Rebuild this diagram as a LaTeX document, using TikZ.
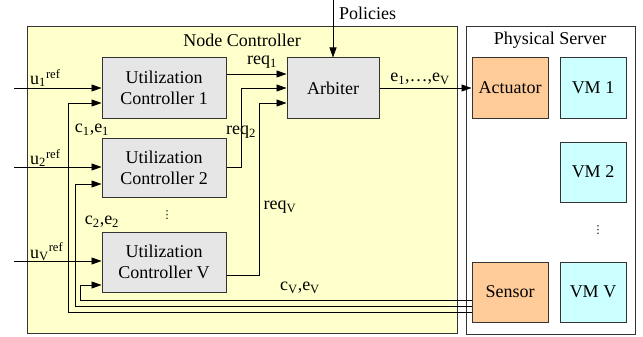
\documentclass[tikz,border=0pt]{standalone}
\usepackage{fontspec}
\setmainfont{Liberation Serif}
\newfontfamily\symfont{DejaVu Sans}
\usetikzlibrary{arrows.meta,calc}

\definecolor{ncfill}{HTML}{FFFFCC}
\definecolor{ucfill}{HTML}{E6E6E6}
\definecolor{hwfill}{HTML}{FFCC99}
\definecolor{vmfill}{HTML}{CCFFFF}
\definecolor{edge}{HTML}{333333}

\tikzset{
  frame/.style={draw=edge, line width=1pt},
  block/.style={draw=edge, line width=1pt, fill=ucfill, align=center,
    minimum width=124pt, minimum height=60pt, inner sep=0pt},
  hwbox/.style={draw=edge, line width=1pt, fill=hwfill,
    minimum width=76pt, minimum height=60pt, inner sep=0pt},
  vmbox/.style={draw=edge, line width=1pt, fill=vmfill,
    minimum width=66pt, minimum height=60pt, inner sep=0pt},
  link/.style={draw=black, line width=0.8pt},
  arr/.style={link, -{Triangle[length=10pt,width=7pt]}},
  lbl/.style={inner sep=0pt},
  vdotsmark/.style={inner sep=0pt, font=\symfont\fontsize{11}{11}\selectfont},
}

\begin{document}
\begin{tikzpicture}[x=1pt,y=-1pt,font=\rmfamily\fontsize{18}{21}\selectfont]
\useasboundingbox (0,0) rectangle (643,337);

% enclosing frames
\draw[frame, fill=ncfill] (27,27) rectangle (457,333);
\draw[frame, fill=white] (466,27) rectangle (635,334);
\node[lbl] (nctitle) at (242,40) {Node Controller};
\node[lbl] (pstitle) at (550,40) {Physical Server};

% controller blocks
\node[block] (uc1) at (164,88)   {Utilization\\Controller 1};
\node[block, minimum height=59pt] (uc2) at (164,167.5) {Utilization\\Controller 2};
\node[block] (ucv) at (164,262)  {Utilization\\Controller V};
\node[block, minimum width=92pt] (arb) at (333,88) {Arbiter};
\node[vdotsmark] (dotsL) at (167,215) {⋮};

% server contents
\node[hwbox] (act) at (510,88)  {Actuator};
\node[hwbox] (sen) at (510,292) {Sensor};
\node[vmbox] (vm1) at (593,88)  {VM 1};
\node[vmbox] (vm2) at (593,172) {VM 2};
\node[vmbox] (vmv) at (593,292) {VM V};
\node[vdotsmark] (dotsR) at (598,230) {⋮};

% reference inputs
\coordinate (in1) at (14,88);
\coordinate (in2) at (14,167);
\coordinate (inv) at (14,261);
\draw[arr] (in1) -- (uc1.west);
\draw[arr] (in2) -- ([yshift=0.5pt]uc2.west);
\draw[arr] (inv) -- ([yshift=1pt]ucv.west);
\node[lbl, anchor=west] (u1) at (30,78)  {u\textsubscript{1}\textsuperscript{ref}};
\node[lbl, anchor=west] (u2) at (30,158) {u\textsubscript{2}\textsuperscript{ref}};
\node[lbl, anchor=west] (uv) at (30,252) {u\textsubscript{V}\textsuperscript{ref}};

% policies into the arbiter
\coordinate (pol) at (333,0);
\draw[arr] (pol) -- (arb.north);
\node[lbl, anchor=west] (poltxt) at (339,13) {Policies};

% requests to the arbiter
\draw[arr] ([yshift=14pt]uc1.east) -- ([yshift=14pt]arb.west);
\draw[arr] ([yshift=0.5pt]uc2.east) -| ($(arb.west)+(-45,0)$) -- (arb.west);
\draw[arr] ([yshift=-13pt]ucv.east) -| ($(arb.west)+(-27,15)$) -- ([yshift=-15pt]arb.west);
\node[lbl] (r1) at (262,62)  {req\textsubscript{1}};
\node[lbl] (r2) at (241,132) {req\textsubscript{2}};
\node[lbl] (rv) at (280,207) {req\textsubscript{V}};

% actuation
\draw[arr] (arb.east) -- (act.west);
\node[lbl] (elist) at (420,79) {e\textsubscript{1},\ldots,e\textsubscript{V}};

% measurements fed back from the sensor
\draw[arr] ([yshift=-20pt]sen.west) -| ($(uc1.west)+(-33,15)$) -- ([yshift=-15pt]uc1.west);
\draw[arr] ([yshift=-14pt]sen.west) -| ($(uc2.west)+(-26,16.5)$) -- ([yshift=-16.5pt]uc2.west);
\draw[arr] ([yshift=-8pt]sen.west)  -| ($(ucv.west)+(-21,23)$) -- ([yshift=-23pt]ucv.west);
\node[lbl] (ce1) at (92,130)  {c\textsubscript{1},e\textsubscript{1}};
\node[lbl] (ce2) at (102,222) {c\textsubscript{2},e\textsubscript{2}};
\node[lbl] (cev) at (300,288) {c\textsubscript{V},e\textsubscript{V}};
\end{tikzpicture}
\end{document}
